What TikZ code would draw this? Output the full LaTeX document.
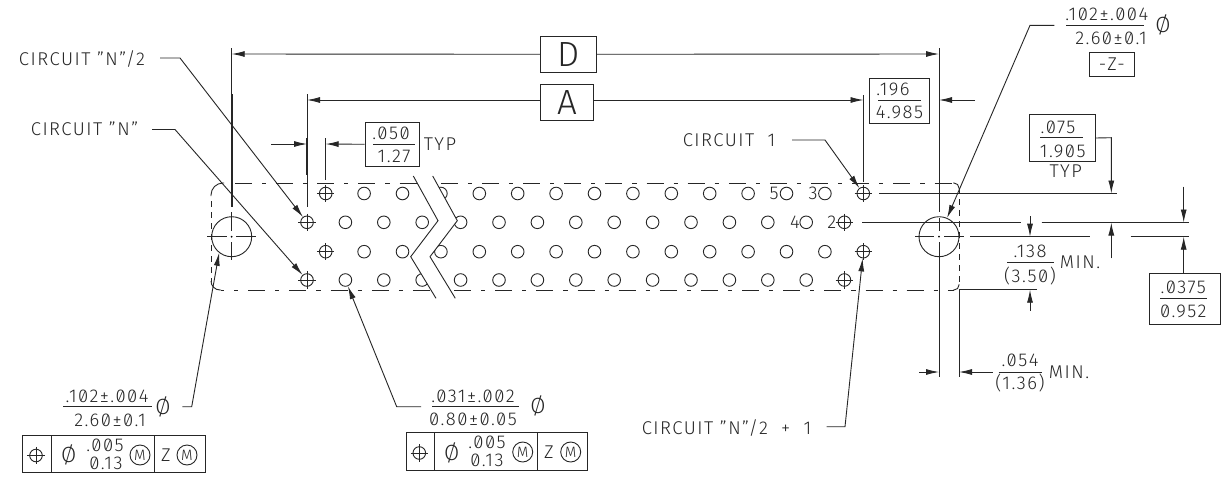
\documentclass[tikz,border=0pt]{standalone}
\usepackage{fontspec}
\setmainfont{Fira Sans Light}[Numbers=SlashedZero, LetterSpace=8]
\usepackage{tikz}
\usetikzlibrary{arrows.meta,positioning}
\tikzset{
	part/.style={line width=0.9pt, black!85},
	thick part/.style={line width=2pt, black!85},
	body/.style={line width=0.9pt, black!85, dash pattern=on 17pt off 10pt on 4.15pt off 10pt},
	side/.style={line width=0.9pt, black!85, dash pattern=on 6pt off 5pt},
	leader/.style={part, -{Latex[length=13pt,width=6pt]}},
	txt/.style={inner sep=0pt, font=\fontsize{18.5}{20}\selectfont, black!85},
	dia/.style={inner sep=0pt, font=\fontsize{22}{24}\selectfont, black!85},
	framebox/.style={draw, part, inner sep=0pt, font=\fontsize{18.5}{20}\selectfont},
	bigbox/.style={draw, part, inner sep=0pt, font=\fontsize{35}{38}\selectfont},
	pin/.style={circle, draw, part, inner sep=0pt, minimum size=12.6pt},
	pinplus/.style={pin, append after command={
		(\tikzlastnode.north) ++(0pt,2pt) edge[part] ([yshift=-2pt]\tikzlastnode.south)
		(\tikzlastnode.west) ++(-2pt,0pt) edge[part] ([xshift=2pt]\tikzlastnode.east)}},
	hole/.style={circle, draw, part, inner sep=0pt, minimum size=40pt},
	mod/.style={circle, draw, part, inner sep=0pt, minimum size=20pt, font=\fontsize{15}{16}\selectfont}
}
\begin{document}
\begin{tikzpicture}[x=1pt, y=-1pt]
			\useasboundingbox (0, 0) rectangle (1226, 482);
			\fill [white] (0, 0) rectangle (1226, 482);

			\node [pinplus] (pinA0) at (325.7, 193.5) {};
			\node [pinplus] (pinB0) at (307, 222.3) {};
			\node [pinplus] (pinC0) at (325.7, 251.7) {};
			\node [pinplus] (pinD0) at (307, 280) {};
			\node [pinplus] (pinA14) at (863.3, 193.5) {};
			\node [pinplus] (pinB14) at (844.4, 222.3) {};
			\node [pinplus] (pinC14) at (863.3, 251.7) {};
			\node [pinplus] (pinD14) at (844.4, 280) {};
			\foreach \k in {1,...,13} {
				\node [pin] (pinA\k) at (325.7+38.4*\k, 193.5) {};
				\node [pin] (pinB\k) at (307+38.4*\k, 222.3) {};
				\node [pin] (pinC\k) at (325.7+38.4*\k, 251.7) {};
				\node [pin] (pinD\k) at (307+38.4*\k, 280) {};
			}

			\draw [body] (235, 183) to (954, 183);
			\draw [body, dash phase=13.85pt] (221, 290) to (954, 290);
			\draw [side] (211, 201) to (211, 282);
			\draw [side] (959, 188) to (959, 285);
			\draw [part, rounded corners=12pt] (211, 196) -- (211, 183) -- (224, 183);
			\draw [part, rounded corners=9pt] (211, 281) -- (211, 290) -- (221, 290);
			\draw [part, rounded corners=5pt] (953, 183) -- (959, 183) -- (959, 189);
			\draw [part, rounded corners=5pt] (959, 284) -- (959, 290) -- (953, 290);

			\fill [white] (413.3, 176) -- (438, 220.7) -- (410.7, 256.7) -- (436, 298.3)
				-- (455.3, 298.3) -- (430, 256.7) -- (457.3, 220.7) -- (432.7, 176) -- cycle;
			\draw [part] (413.3, 176) -- (438, 220.7) -- (410.7, 256.7) -- (436, 298.3);
			\draw [part] (432.7, 176) -- (457.3, 220.7) -- (430, 256.7) -- (455.3, 298.3);

			\node [hole] (holeL) at (231.7, 236.7) {};
			\node [hole] (holeR) at (939, 236.7) {};
			\fill (holeL.center) circle (1pt);
			\fill (holeR.center) circle (1pt);
			\draw [part] (207, 236.7) to (227, 236.7);
			\draw [part] (236, 236.7) to (256, 236.7);
			\draw [part] (231.7, 212) to (231.7, 231);
			\draw [part] (231.7, 242) to (231.7, 260);
			\draw [part] (915, 236.7) to (934, 236.7);
			\draw [part] (944, 236.7) to (964, 236.7);
			\draw [part] (939, 218) to (939, 231);
			\draw [part] (939, 242) to (939, 377);
			\draw [part] (959, 290) to (959, 377);

			\draw [part] (231.7, 48) to (231.7, 207);
			\draw [thick part] (231.7, 94) to (231.7, 207);
			\draw [part] (307, 94) to (307, 207);
			\draw [thick part] (307, 138) to (307, 175);
			\draw [part] (325.7, 138) to (325.7, 180);
			\draw [part] (863.5, 95) to (863.5, 182);
			\draw [part] (939, 48) to (939, 212);

			\node [txt] (n2txt) at (82, 59) {CIRCUIT "N"/2};
			\coordinate (n2bend) at (180, 58);
			\draw [leader] (160, 58) -- (n2bend) -- (pinB0);
			\node [txt] (ntxt) at (84.5, 129) {CIRCUIT "N"};
			\coordinate (nbend) at (175, 129.5);
			\draw [leader] (152, 129.5) -- (nbend) -- (pinD0);
			\node [txt] (c1txt) at (729, 140) {CIRCUIT\ \ 1};
			\coordinate (c1bend) at (825, 140);
			\draw [leader] (792, 140) -- (c1bend) -- (pinA14);
			\node [txt] (n21txt) at (726.5, 428) {CIRCUIT "N"/2\ \ +\ \ 1};
			\coordinate (n21bend) at (845, 426.7);
			\draw [leader] (826.7, 426.7) -- (n21bend) -- (pinC14);

			\node [txt] (five) at (774, 193.5) {5};
			\node [txt] (three) at (813, 193.5) {3};
			\node [txt] (four) at (795, 222.3) {4};
			\node [txt] (two) at (831.7, 222.3) {2};

			\node [bigbox, minimum width=55.7pt, minimum height=36.7pt] (dbox) at (568.1, 54.3) {D};
			\node [bigbox, minimum width=53.4pt, minimum height=36.4pt] (abox) at (567, 102.5) {A};
			\coordinate (aboxL) at (540.3, 100);
			\coordinate (aboxR) at (593.7, 100);
			\draw [leader] (dbox) to (231.7, 54);
			\draw [leader] (dbox) to (939, 54);
			\draw [leader] (aboxL) to (307, 100);
			\draw [leader] (aboxR) to (863.5, 100);

			\node [framebox, minimum width=59.6pt, minimum height=44.3pt] (b196) at (899.5, 101) {};
			\node [txt] (n196) at (893, 89) {.196};
			\node [txt] (d196) at (899.5, 112) {4.985};
			\draw [part] (878, 100) to (921, 100);
			\draw [leader] (975, 100) to (939, 100);

			\node [framebox, minimum width=54pt, minimum height=44.4pt] (b050) at (392, 144.5) {};
			\node [txt] (n050) at (391, 133) {.050};
			\node [txt] (d050) at (394, 156) {1.27};
			\draw [part] (373, 144) to (415, 144);
			\node [txt] (typ050) at (440, 144) {TYP};
			\draw [leader] (271, 144) to (307, 144);
			\draw [leader] (b050) to (325.7, 144);

			\node [framebox, minimum width=66pt, minimum height=47.4pt] (b075) at (1062.3, 138) {};
			\node [txt] (n075) at (1058, 127) {.075};
			\node [txt] (d075) at (1062.7, 151) {1.905};
			\draw [part] (1040, 137.7) to (1083, 137.7);
			\node [txt] (typ075) at (1065.7, 171) {TYP};
			\coordinate (b075bend) at (1111.3, 137.7);
			\draw [leader] (b075.east) -- (b075bend) -- (1111.3, 193.5);
			\draw [part] (879, 193.5) to (1116.7, 193.5);

			\draw [part] (862.3, 222.5) to (1021, 222.5);
			\draw [part] (1041.7, 222.5) to (1189.3, 222.5);
			\draw [part, line width=1.4pt] (1041.7, 222.5) to (1111.3, 222.5);
			\draw [part] (970, 236.7) to (1090, 236.7);
			\draw [part, line width=1.4pt] (970, 236.7) to (1036.7, 236.7);
			\draw [part] (1130.7, 236.7) to (1189.3, 236.7);
			\draw [part] (959, 289.7) to (1036.7, 289.7);

			\node [txt] (n138) at (1030, 251.7) {.138};
			\node [txt] (d138) at (1030, 275.7) {(3.50)};
			\draw [part] (1007, 262.3) to (1053.7, 262.3);
			\node [txt] (min138) at (1080, 262) {MIN.};
			\draw [leader] (1030, 216) to (1030, 236.7);
			\draw [leader] (1030, 310.7) to (1030, 289.7);
			\draw [leader] (1111.3, 258.3) to (1111.3, 222.5);

			\node [framebox, minimum width=70.3pt, minimum height=51pt] (b0375) at (1184.8, 298.8) {};
			\node [txt] (n0375) at (1183.3, 287.3) {.0375};
			\node [txt] (d0375) at (1183.3, 311) {0.952};
			\draw [part] (1160, 298.7) to (1207, 298.7);
			\coordinate (b0375top) at (1183.7, 273.3);
			\draw [leader] (1183.7, 186.7) to (1183.7, 222.5);
			\draw [leader] (b0375top) to (1183.7, 236.7);

			\node [txt] (n054) at (1020, 360) {.054};
			\node [txt] (d054) at (1020, 383) {(1.36)};
			\draw [part] (998.7, 372) to (1041.7, 372);
			\node [txt] (min054) at (1069, 372) {MIN.};
			\draw [leader] (919, 372) to (939, 372);
			\draw [leader] (992.7, 372) to (959, 372);

			\node [txt] (nzlab) at (1106.7, 14) {.102±.004};
			\node [txt] (dzlab) at (1111, 38) {2.60±0.1};
			\draw [part] (1066, 25.3) to (1144, 25.3);
			\node [dia] (diaz) at (1163, 25) {Ø};
			\node [framebox, minimum width=45pt, minimum height=24.4pt] (zbox) at (1111.8, 64.5) {-Z-};
			\coordinate (zbend) at (1030, 25.3);
			\draw [leader] (1054.3, 25.3) -- (zbend) -- (holeR);

			\node [txt] (nholeL) at (107, 396) {.102±.004};
			\node [txt] (dholeL) at (110, 420) {2.60±0.1};
			\draw [part] (63, 406.7) to (152, 406.7);
			\node [dia] (diaL) at (163, 407) {Ø};
			\coordinate (holeLbend) at (191.7, 406.7);
			\draw [leader] (182.3, 406.7) -- (holeLbend) -- (holeL.232);

			\node [txt] (npin) at (473, 396) {.031±.002};
			\node [txt] (dpin) at (473, 419) {0.80±0.05};
			\draw [part] (432, 406.7) to (518.7, 406.7);
			\node [dia] (diapin) at (538, 406) {Ø};
			\coordinate (pinbend) at (396.7, 406.7);
			\draw [leader] (421, 406.7) -- (pinbend) -- (pinD1);

			\draw [part] (22.7, 435) rectangle (205.3, 472.7);
			\draw [part] (51.7, 435) to (51.7, 472.7);
			\draw [part] (154.3, 435) to (154.3, 472.7);
			\node [pinplus] (posL) at (36, 455.5) {};
			\node [dia] (toldiaL) at (68.7, 455) {Ø};
			\node [txt] (tolnL) at (105, 445) {.005};
			\node [txt] (toldL) at (106, 463) {0.13};
			\node [mod] (mL) at (140, 455) {M};
			\node [txt] (datumL) at (166, 455) {Z};
			\node [mod] (mzL) at (187, 455) {M};

			\draw [part] (406, 432.3) rectangle (587.7, 470.3);
			\draw [part] (434, 432.3) to (434, 470.3);
			\draw [part] (537.7, 432.3) to (537.7, 470.3);
			\node [pinplus] (posR) at (419.3, 453) {};
			\node [dia] (toldiaR) at (451.7, 453) {Ø};
			\node [txt] (tolnR) at (487, 442.7) {.005};
			\node [txt] (toldR) at (487, 460) {0.13};
			\node [mod] (mR) at (522.7, 452) {M};
			\node [txt] (datumR) at (549, 452) {Z};
			\node [mod] (mzR) at (570.7, 452) {M};
		\end{tikzpicture}
\end{document}
